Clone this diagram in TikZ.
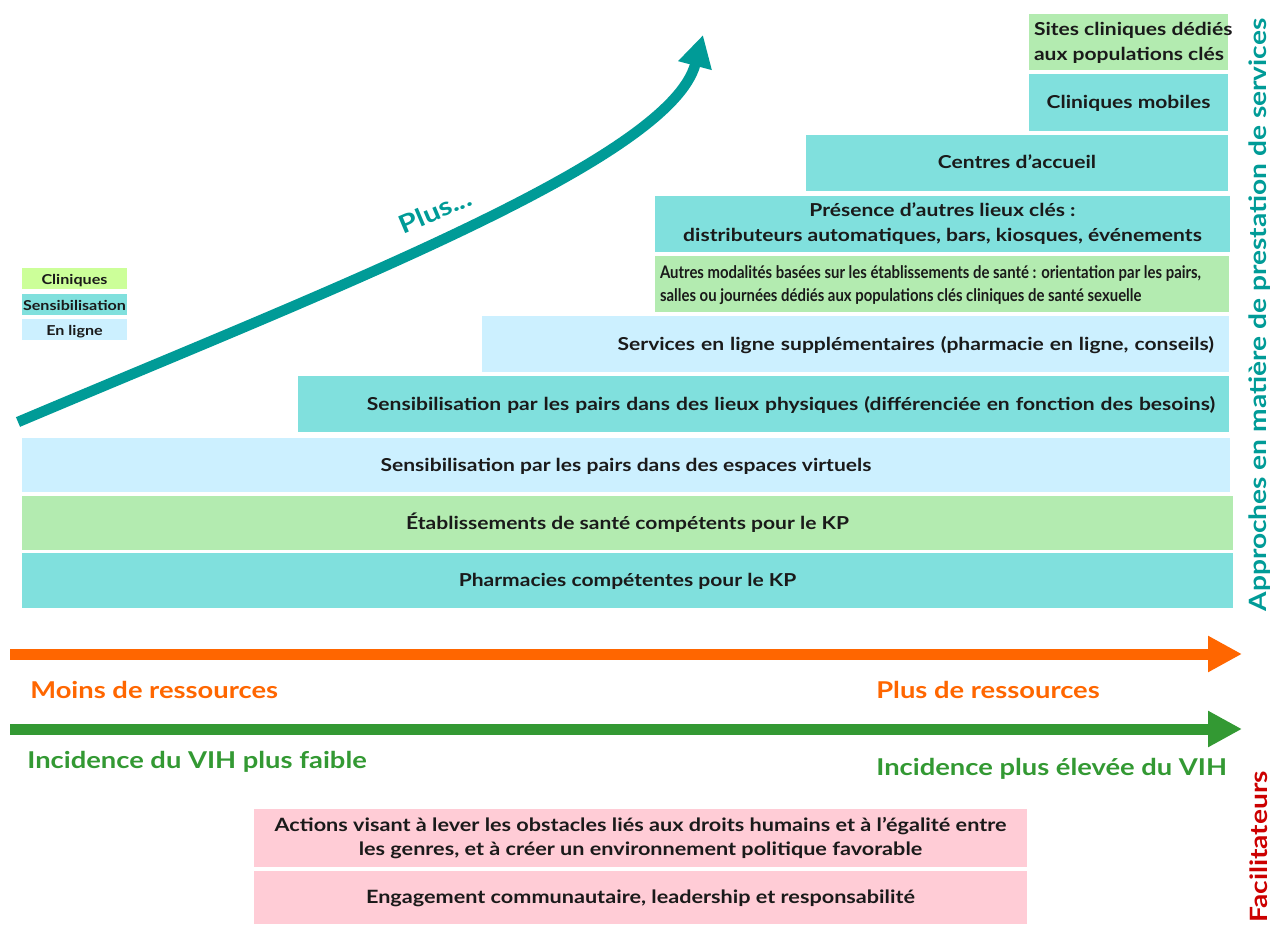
\documentclass[tikz,border=0pt]{standalone}
\usepackage{fontspec}
\setmainfont{Lato}[FakeStretch=1.18]
\newfontfamily\condfont{Lato}[FakeStretch=0.86]
\usetikzlibrary{arrows.meta,positioning}
\newdimen\px \px=0.6pt
\definecolor{sens}{HTML}{80E0DD}
\definecolor{clin}{HTML}{B3EBB0}
\definecolor{clinleg}{HTML}{CCFF99}
\definecolor{ligne}{HTML}{CCF0FF}
\definecolor{rose}{HTML}{FFCCD6}
\definecolor{sarc}{HTML}{009B97}
\definecolor{ress}{HTML}{FF6600}
\definecolor{incid}{HTML}{339933}
\definecolor{facil}{HTML}{CC0000}
\definecolor{ink}{HTML}{1A1A1A}
\tikzset{
  band/.style={fill=#1, text=ink, inner xsep=0pt, inner ysep=0pt,
    font=\fontsize{10.7}{15}\selectfont\bfseries, align=center},
  oneline/.style={text height=0.72em, text depth=0pt},
  legbox/.style={fill=#1, text=ink, minimum width=105\px, minimum height=21\px,
    inner sep=0pt, oneline, font=\fontsize{8.2}{9}\selectfont\bfseries},
  axe/.style={line width=6.6pt, -{Triangle[length=20.4pt,width=20.4pt]}},
  axlabel/.style={anchor=west, inner sep=0pt, font=\fontsize{13.9}{15}\selectfont\bfseries},
  side/.style={rotate=90, inner sep=0pt, font=\fontsize{14.3}{16}\selectfont\bfseries},
}

\begin{document}
\begin{tikzpicture}[x=0.6pt,y=-0.6pt]
  \useasboundingbox (0,0) rectangle (1273,925);

  % escalier des approches
  \node[band=sens, oneline, minimum width=1211\px, minimum height=55\px] (pharm) at (627.5,580.5)
    {Pharmacies compétentes pour le KP};
  \node[band=clin, oneline, minimum width=1211\px, minimum height=54\px] (etab) at (627.5,523)
    {Établissements de santé compétents pour le KP};
  \node[band=ligne, oneline, minimum width=1208\px, minimum height=54\px] (virt) at (626,465)
    {Sensibilisation par les pairs dans des espaces virtuels};
  \node[band=sens, oneline, text width=903\px, inner xsep=14\px, minimum height=56\px, align=right] (phys) at (763.5,404)
    {Sensibilisation par les pairs dans des lieux physiques (différenciée en fonction des besoins)};
  \node[band=ligne, oneline, text width=717\px, inner xsep=15\px, minimum height=56\px, align=right] (servl) at (855.5,344)
    {Services en ligne supplémentaires (pharmacie en ligne, conseils)};
  \node[band=clin, minimum width=574\px, minimum height=56\px] (autres) at (942,284) {};
  \node[anchor=west, inner sep=0pt, align=left, text=ink,
        font=\condfont\fontsize{10.4}{13.8}\selectfont\bfseries] (autrest) at ([xshift=5\px,yshift=-1\px]autres.west)
    {Autres modalités basées sur les établissements de santé : orientation par les pairs,\\
     salles ou journées dédiés aux populations clés cliniques de santé sexuelle};
  \node[band=sens, minimum width=575\px, minimum height=56\px] (pres) at (942.5,224)
    {Présence d’autres lieux clés :\\ distributeurs automatiques, bars, kiosques, événements};
  \node[band=sens, oneline, minimum width=422\px, minimum height=56\px] (centres) at (1017,163)
    {Centres d’accueil};
  \node[band=sens, oneline, minimum width=199\px, minimum height=57\px] (mob) at (1128.5,102.5)
    {Cliniques mobiles};
  \node[band=clin, minimum width=199\px, minimum height=56\px] (sites) at (1128.5,42) {};
  \node[anchor=west, inner sep=0pt, align=left, text=ink,
        font=\fontsize{10.7}{15}\selectfont\bfseries] (sitest) at ([xshift=5\px,yshift=-1\px]sites.west)
    {Sites cliniques dédiés\\ aux populations clés};

  % legende
  \node[legbox=clinleg] (lgclin) at (74.5,278.5) {Cliniques};
  \node[legbox=sens] (lgsens) at (74.5,304.5) {Sensibilisation};
  \node[legbox=ligne] (lgligne) at (74.5,329.5) {En ligne};

  % fleche courbe
  \coordinate (depart) at (18,422);
  \coordinate (sommet) at (703,35);
  \draw[sarc, line width=6.3pt, -{Triangle[length=19pt,width=19.5pt]}]
    (depart) .. controls (330,290) and (670,160) .. (sommet);
  \node[rotate=23, text=sarc, inner sep=0pt, font=\fontsize{15}{16}\selectfont\bfseries] (plus) at (435,211) {Plus...};

  % axes
  \coordinate (rA) at (10,654);
  \coordinate (rB) at (1242,654);
  \coordinate (iA) at (10,729);
  \coordinate (iB) at (1242,729);
  \draw[axe, ress] (rA) -- (rB);
  \draw[axe, incid] (iA) -- (iB);
  \node[axlabel, text=ress] (moins) at (30,690) {Moins de ressources};
  \node[axlabel, text=ress] (plusres) at (876,690) {Plus de ressources};
  \node[axlabel, text=incid] (faible) at (27,762) {Incidence du VIH plus faible};
  \node[axlabel, text=incid] (elevee) at (876,769) {Incidence plus élevée du VIH};

  % facilitateurs
  \node[band=rose, minimum width=773\px, minimum height=58\px,
        font=\fontsize{11}{14.4}\selectfont\bfseries] (actions) at (640.5,838)
    {Actions visant à lever les obstacles liés aux droits humains et à l'égalité entre\\
     les genres, et à créer un environnement politique favorable};
  \node[band=rose, oneline, minimum width=773\px, minimum height=53\px,
        font=\fontsize{11}{14.4}\selectfont\bfseries] (engag) at (640.5,897.5)
    {Engagement communautaire, leadership et responsabilité};

  % titres lateraux
  \node[side, text=sarc] (approches) at (1260,315) {Approches en matière de prestation de services};
  \node[side, text=facil] (facilit) at (1259,847) {Facilitateurs};
\end{tikzpicture}
\end{document}
